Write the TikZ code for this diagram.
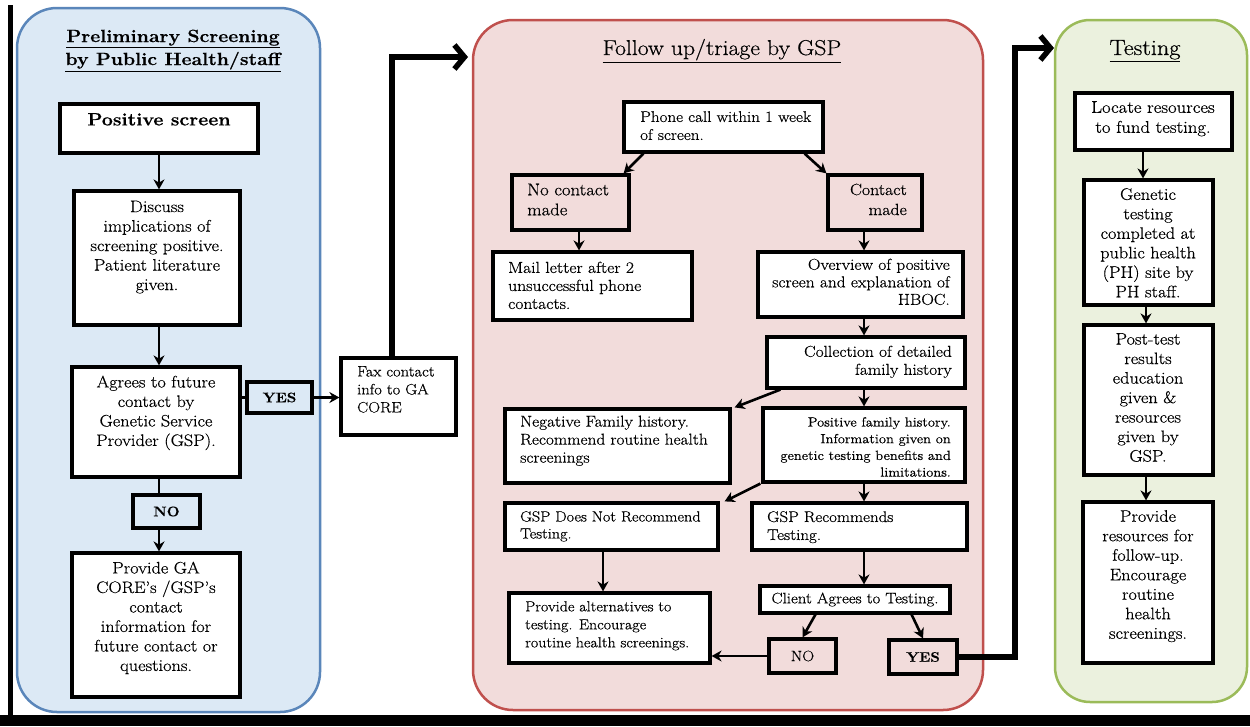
\documentclass[tikz,border=0pt]{standalone}
\usepackage{fontspec}
\setmainfont{Latin Modern Roman}[FakeStretch=1.1, FakeBold=0.5]
\usetikzlibrary{arrows.meta}
\definecolor{bfill}{HTML}{DCE9F5}
\definecolor{bdraw}{HTML}{5A86BA}
\definecolor{rfill}{HTML}{F2DCDB}
\definecolor{rdraw}{HTML}{C0504D}
\definecolor{gfill}{HTML}{EBF1DE}
\definecolor{gdraw}{HTML}{9BBB59}
\begin{document}
\begin{tikzpicture}[x=1pt,y=-1pt,
  panel/.style={rectangle, line width=2.5pt, inner sep=0pt},
  box/.style={rectangle, draw=black, line width=3.2pt, fill=white, inner sep=0pt},
  txt/.style={inner sep=0pt, font=\fontsize{16.6}{19.5}\selectfont},
  mtxt/.style={inner sep=0pt, font=\fontsize{15.5}{18}\selectfont},
  gtxt/.style={inner sep=0pt, font=\fontsize{16.6}{19.5}\selectfont},
  arr/.style={line width=2.6pt, -{Stealth[length=10pt,width=11pt]}},
  plain/.style={line width=2.6pt},
  big/.style={line width=5.5pt, -{Straight Barb[length=10pt,width=24pt]}}]
\useasboundingbox (0,0) rectangle (1250,726);
\fill[white] (0,0) rectangle (1250,726);
\fill[black] (0,715) rectangle (1250,726);
\fill[black] (8,5) rectangle (13,715);

% panels
\node[panel, fill=bfill, draw=bdraw, rounded corners=40pt, minimum width=303pt, minimum height=704pt] (bluep) at (168.5,360) {};
\node[panel, fill=rfill, draw=rdraw, rounded corners=40pt, minimum width=510pt, minimum height=690pt] (redp) at (728,365) {};
\node[panel, fill=gfill, draw=gdraw, rounded corners=35pt, minimum width=192pt, minimum height=682pt] (greenp) at (1151,361) {};

% titles
\node[inner sep=0pt, anchor=north, align=center, font=\fontsize{17.7}{23}\selectfont\bfseries] (t1) at (173,29.5) {\underline{Preliminary Screening}\\\underline{by Public Health/staff}};
\node[inner sep=0pt, anchor=base, font=\fontsize{21.5}{24}\selectfont] (t2) at (722,55) {\underline{Follow up/triage by GSP}};
\node[inner sep=0pt, anchor=base, font=\fontsize{22}{24}\selectfont] (t3) at (1145,55) {\underline{Testing}};

% left column
\node[box, minimum width=198pt, minimum height=49pt] (ps) at (159,128.5) {};
\node[inner sep=0pt, anchor=north, font=\fontsize{17.8}{20}\selectfont\bfseries] (psT) at (159,113) {Positive screen};
\node[box, minimum width=166pt, minimum height=134pt] (dis) at (157,258) {};
\node[txt, anchor=north, align=center] (disT) at (157,200.5) {Discuss\\implications of\\screening positive.\\Patient literature\\given.};
\node[box, minimum width=168pt, minimum height=110pt] (ag) at (156,422) {};
\node[txt, anchor=north, align=center] (agT) at (156,375.5) {Agrees to future\\contact by\\Genetic Service\\Provider (GSP).};
\node[box, fill=bfill, minimum width=65pt, minimum height=31pt, font=\fontsize{13.8}{18}\selectfont\bfseries] (yes1) at (279.5,397.5) {YES};
\node[box, fill=bfill, minimum width=67pt, minimum height=33pt, font=\fontsize{13.8}{18}\selectfont\bfseries] (no1) at (166.5,511.5) {NO};
\node[box, minimum width=168pt, minimum height=144pt] (prov) at (156,625) {};
\node[txt, anchor=north, align=center] (provT) at (156,561.5) {Provide GA\\CORE's /GSP's\\contact\\information for\\future contact or\\questions.};
\node[box, minimum width=115pt, minimum height=77pt] (fax) at (398.5,396.5) {};
\node[mtxt, anchor=north west, align=left, font=\fontsize{15}{18}\selectfont] (faxT) at (357,366) {Fax contact\\info to GA\\CORE};

% middle column
\node[box, minimum width=199pt, minimum height=50pt] (phone) at (723.5,127) {};
\node[mtxt, anchor=north west, align=left] (phoneT) at (640,111) {Phone call within 1 week\\of screen.};
\node[box, fill=rfill, minimum width=117pt, minimum height=55pt] (noc) at (570.5,202.5) {};
\node[mtxt, anchor=north west, align=left, font=\fontsize{17}{20}\selectfont] (nocT) at (527,183.5) {No contact\\made};
\node[box, fill=rfill, minimum width=94pt, minimum height=55pt] (con) at (875,202.5) {};
\node[mtxt, anchor=north east, align=right, font=\fontsize{16.2}{20}\selectfont] (conT) at (907,183.5) {Contact\\made};
\node[box, minimum width=199pt, minimum height=68pt] (mail) at (592.5,286) {};
\node[mtxt, anchor=north west, align=left, font=\fontsize{16}{18}\selectfont] (mailT) at (508,261.5) {Mail letter after 2\\unsuccessful phone\\contacts.};
\node[box, minimum width=205pt, minimum height=65pt] (ov) at (860.5,284.5) {};
\node[mtxt, anchor=north east, align=right, font=\fontsize{15.8}{17.5}\selectfont] (ovT) at (950,258.5) {Overview of positive\\screen and explanation of\\HBOC.};
\node[box, minimum width=198pt, minimum height=51pt] (col) at (866,362.5) {};
\node[mtxt, anchor=north east, align=right, font=\fontsize{15.8}{18}\selectfont] (colT) at (952,345.5) {Collection of detailed\\family history};
\node[box, minimum width=225pt, minimum height=74pt] (neg) at (617.5,446) {};
\node[mtxt, anchor=north west, align=left, font=\fontsize{15.7}{18}\selectfont] (negT) at (520,415.5) {Negative Family history.\\Recommend routine health\\screenings};
\node[box, minimum width=202pt, minimum height=74pt] (pos) at (864,445) {};
\node[inner sep=0pt, anchor=north east, align=right, font=\fontsize{13.2}{16.7}\selectfont] (posT) at (951,417) {Positive family history.\\Information given on\\genetic testing benefits and\\limitations.};
\node[box, minimum width=213pt, minimum height=47pt] (gnot) at (611.5,526.5) {};
\node[mtxt, anchor=north west, align=left, font=\fontsize{14.7}{17}\selectfont] (gnotT) at (520,511) {GSP Does Not Recommend\\Testing.};
\node[box, minimum width=215pt, minimum height=47pt] (grec) at (859.5,526.5) {};
\node[mtxt, anchor=north west, align=left, font=\fontsize{15.4}{18}\selectfont] (grecT) at (767,511) {GSP Recommends\\Testing.};
\node[box, minimum width=201pt, minimum height=70pt] (palt) at (609.5,628) {};
\node[mtxt, anchor=north west, align=left, font=\fontsize{14.6}{18}\selectfont] (paltT) at (525,601) {Provide alternatives to\\testing. Encourage\\routine health screenings.};
\node[box, minimum width=190pt, minimum height=27pt, font=\fontsize{15.2}{18}\selectfont] (cli) at (855,599.5) {Client Agrees to Testing.};
\node[box, fill=rfill, minimum width=67pt, minimum height=34pt, font=\fontsize{15}{18}\selectfont] (no2) at (802.5,656) {NO};
\node[box, fill=rfill, minimum width=68pt, minimum height=34pt, font=\fontsize{13.8}{18}\selectfont\bfseries] (yes2) at (923,657) {YES};

% right column
\node[box, minimum width=157pt, minimum height=57pt] (loc) at (1153.5,121.5) {};
\node[gtxt, anchor=north, align=center, font=\fontsize{17}{20}\selectfont] (locT) at (1153,101) {Locate resources\\to fund testing.};
\node[box, minimum width=129pt, minimum height=125pt] (gen) at (1148.5,242.5) {};
\node[gtxt, anchor=north, align=center] (genT) at (1148,188) {Genetic\\testing\\completed at\\public health\\(PH) site by\\PH staff.};
\node[box, minimum width=129pt, minimum height=150pt] (post) at (1148.5,400) {};
\node[gtxt, anchor=north, align=center] (postT) at (1148,333) {Post-test\\results\\education\\given \&\\resources\\given by\\GSP.};
\node[box, minimum width=130pt, minimum height=161pt] (pres) at (1148,582.5) {};
\node[gtxt, anchor=north, align=center] (presT) at (1148,510) {Provide\\resources for\\follow-up.\\Encourage\\routine\\health\\screenings.};

% column coordinates
\coordinate (xL) at (159,0);
\coordinate (xNC) at (579,0);
\coordinate (xC) at (864,0);
\coordinate (xGN) at (603,0);
\coordinate (xLoc) at (1143,0);
\coordinate (xG) at (1146,0);
\coordinate (rcorner) at (392,57);
\coordinate (redin) at (468,57);
\coordinate (gcorner) at (1015,48);
\coordinate (grin) at (1054,48);

% left connectors
\draw[arr] (ps.south -| xL) -- (dis.north -| xL);
\draw[arr] (dis.south -| xL) -- (ag.north -| xL);
\draw[plain] (ag.south -| xL) -- (no1.north -| xL);
\draw[arr] (no1.south -| xL) -- (prov.north -| xL);
\draw[plain] (yes1.west -| ag.east) -- (yes1.west);
\draw[arr] (yes1.east) -- (yes1.east -| fax.west);
\draw[big] (fax.north -| rcorner) -- (rcorner) -- (redin);

% middle connectors
\draw[arr] ([xshift=21pt]phone.south west) -- ([xshift=-7pt]noc.north east);
\draw[arr] ([xshift=-20pt]phone.south east) -- (con.north west);
\draw[arr] (noc.south -| xNC) -- (mail.north -| xNC);
\draw[arr] (con.south -| xC) -- (ov.north -| xC);
\draw[arr] (ov.south -| xC) -- (col.north -| xC);
\draw[arr] ([xshift=15pt]col.south west) -- ([xshift=3pt]neg.north east);
\draw[arr] (col.south -| xC) -- (pos.north -| xC);
\draw[arr] ([xshift=-1pt]pos.south west) -- ([xshift=5pt]gnot.north east);
\draw[arr] (pos.south -| xC) -- (grec.north -| xC);
\draw[arr] (gnot.south -| xGN) -- (palt.north -| xGN);
\draw[arr] (grec.south -| xC) -- (cli.north -| xC);
\draw[arr] ([xshift=57pt]cli.south west) -- (no2.north);
\draw[arr] ([xshift=-40pt]cli.south east) -- (yes2.north);
\draw[arr] (no2.west) -- (no2.west -| palt.east);
\draw[big] (yes2.east) -| (gcorner) -- (grin);

% right connectors
\draw[arr] (loc.south -| xLoc) -- (gen.north -| xLoc);
\draw[arr] (gen.south -| xG) -- (post.north -| xG);
\draw[arr] (post.south -| xG) -- (pres.north -| xG);
\end{tikzpicture}
\end{document}
